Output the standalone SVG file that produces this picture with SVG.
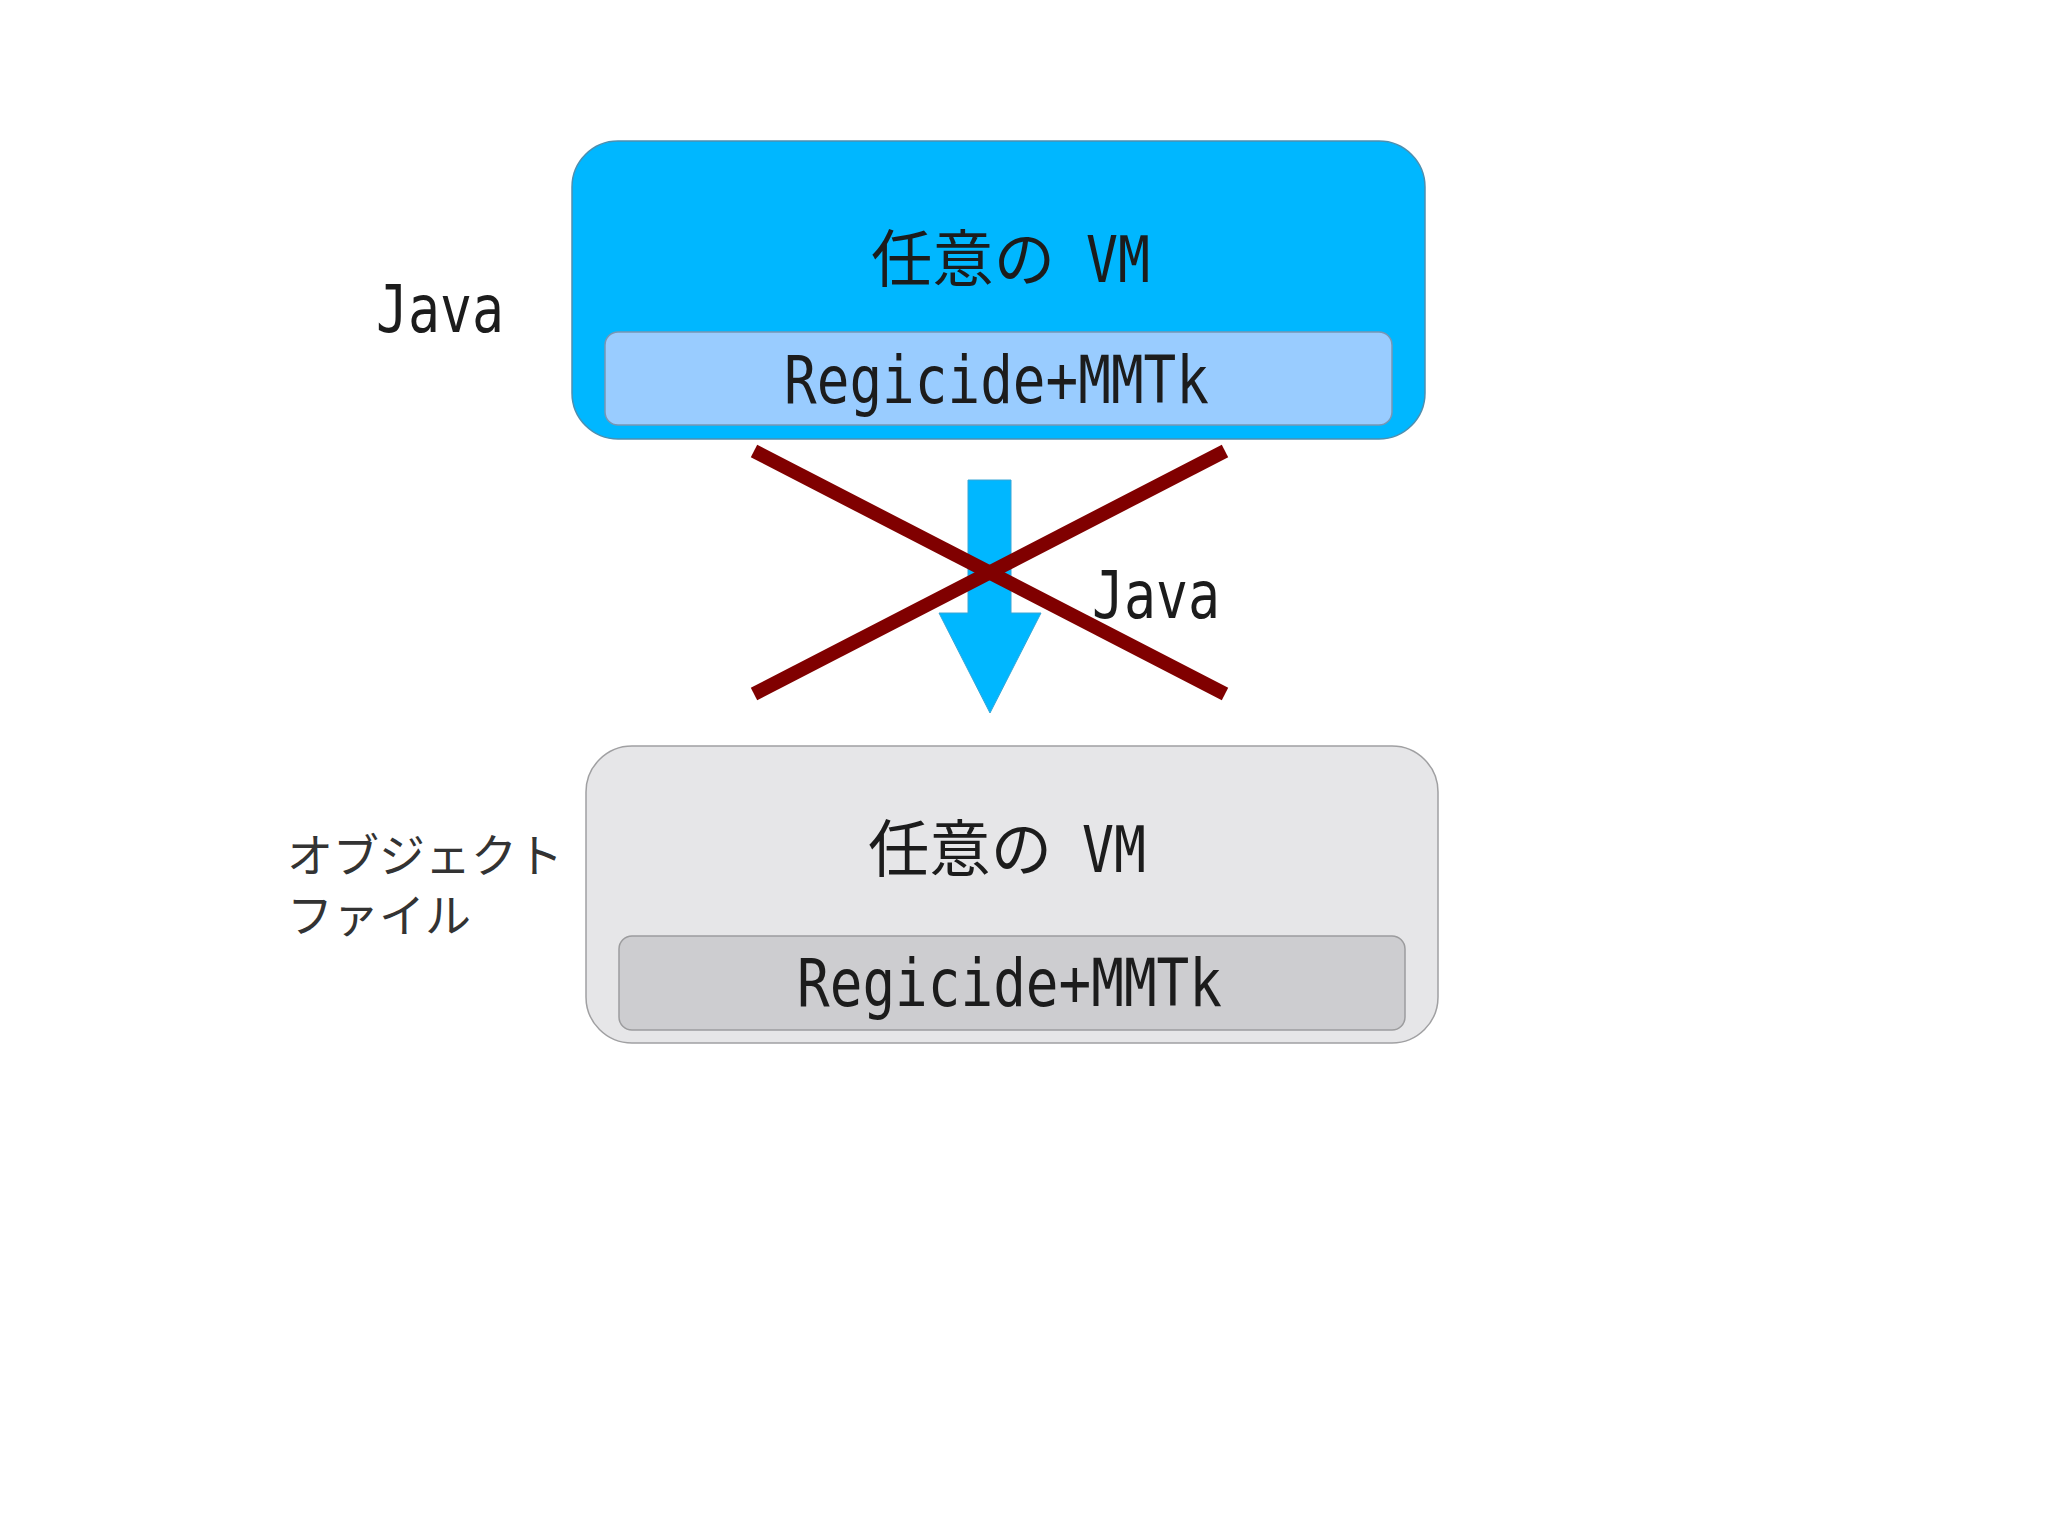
<svg xmlns="http://www.w3.org/2000/svg" width="2048" height="1536" viewBox="0 0 2048 1536">
  <style>
    .mono { font-family: "DejaVu Sans Mono", "Liberation Mono", monospace; fill: #1c1c1c; }
    .cjk { font-family: "Noto Sans CJK JP", "Noto Sans", sans-serif; fill: #1c1c1c; }
    .label { font-family: "Noto Sans CJK JP", "Noto Sans", sans-serif; fill: #333333; font-size: 46px; }
    .outer-blue { fill: #00b7ff; stroke: #4d8fb0; stroke-width: 1.5; }
    .inner-blue { fill: #99ccff; stroke: #7896b4; stroke-width: 1.5; }
    .outer-gray { fill: #e6e6e8; stroke: #a0a0a2; stroke-width: 1.5; }
    .inner-gray { fill: #cdcdd0; stroke: #9c9c9e; stroke-width: 1.5; }
    .cross { stroke: #800000; stroke-width: 14; fill: none; }
  </style>
  <rect width="2048" height="1536" fill="#ffffff"/>

  <g id="label-java-top">
    <text class="mono" x="376" y="332" font-size="65" textLength="128" lengthAdjust="spacingAndGlyphs">Java</text>
  </g>

  <g id="node-top-vm">
    <rect class="outer-blue" x="572" y="141" width="853" height="298" rx="46" ry="46"/>
    <text class="cjk" x="871" y="282" font-size="62" textLength="184" lengthAdjust="spacingAndGlyphs">任意の</text>
    <text class="mono" x="1086" y="282" font-size="64" textLength="64" lengthAdjust="spacingAndGlyphs">VM</text>
  </g>
  <g id="node-top-regicide">
    <rect class="inner-blue" x="605" y="332" width="787" height="93" rx="13" ry="13"/>
    <text class="mono" x="784" y="403" font-size="66" textLength="425" lengthAdjust="spacingAndGlyphs">Regicide+MMTk</text>
  </g>

  <g id="connectors">
    <polygon points="968,480 1011,480 1011,613 1041,613 990,713 939,613 968,613" fill="#00b7ff" stroke="#39a6d6" stroke-width="1"/>
  </g>

  <g id="cross-mark">
    <line class="cross" x1="754" y1="451" x2="1225" y2="694"/>
    <line class="cross" x1="754" y1="694" x2="1225" y2="451"/>
  </g>

  <g id="label-java-middle">
    <text class="mono" x="1092" y="618" font-size="66" textLength="128" lengthAdjust="spacingAndGlyphs">Java</text>
  </g>

  <g id="label-object-file">
    <text class="label" x="287" y="872">オブジェクト</text>
    <text class="label" x="287" y="932">ファイル</text>
  </g>

  <g id="node-bottom-vm">
    <rect class="outer-gray" x="586" y="746" width="852" height="297" rx="46" ry="46"/>
    <text class="cjk" x="868" y="872" font-size="62" textLength="184" lengthAdjust="spacingAndGlyphs">任意の</text>
    <text class="mono" x="1082" y="872" font-size="64" textLength="64" lengthAdjust="spacingAndGlyphs">VM</text>
  </g>
  <g id="node-bottom-regicide">
    <rect class="inner-gray" x="619" y="936" width="786" height="94" rx="13" ry="13"/>
    <text class="mono" x="797" y="1006" font-size="66" textLength="425" lengthAdjust="spacingAndGlyphs">Regicide+MMTk</text>
  </g>
</svg>
